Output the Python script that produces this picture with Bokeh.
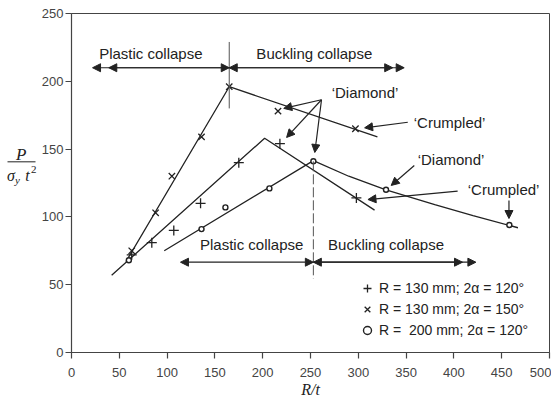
from bokeh.plotting import figure
from bokeh.layouts import row
from bokeh.models import (Label, Arrow, NormalHead, Legend, LegendItem,
                          FixedTicker)
from bokeh.embed import file_html
from bokeh.resources import INLINE

# ---------------- data ----------------
plus_x = [63, 84, 107, 135, 175, 218, 298]
plus_y = [72, 81, 90, 110, 140, 154, 114]
cross_x = [63, 88, 105, 136, 165, 216, 297]
cross_y = [75, 103, 130, 159, 196, 178, 165]
circ_x = [60, 136, 161, 207, 253, 329, 458]
circ_y = [68, 91, 107, 121, 141, 120, 94]

plus_fit_x = [42, 202, 317]
plus_fit_y = [57, 158, 105]
cross_fit_x = [57, 165, 320]
cross_fit_y = [67, 196, 159]
circ_fit_x = [97, 253, 290, 329, 380, 420, 467]
circ_fit_y = [75, 141.5, 130, 120, 109, 101, 92]

boundary_x = [165, 253]

x_ticks = [0, 50, 100, 150, 200, 250, 300, 350, 400, 450, 500]
y_ticks = [0, 50, 100, 150, 200, 250]

legend_labels = ["R = 130 mm; 2\u03b1 = 120\u00b0",
                 "R = 130 mm; 2\u03b1 = 150\u00b0",
                 "R =  200 mm; 2\u03b1 = 120\u00b0"]
region_labels = ["Plastic collapse", "Buckling collapse"]
mode_labels = ["\u2018Diamond\u2019", "\u2018Crumpled\u2019"]

# ---------------- styling ----------------
INK = "#222222"
AX = "#444444"
SANS = "Liberation Sans"
SERIF = "Liberation Serif"
H = 400
LEFT_W = 38

# ---------------- left strip holding the y-axis label ----------------
lab = figure(width=LEFT_W, height=H, x_range=(0, LEFT_W), y_range=(0, H),
             x_axis_type=None, y_axis_type=None, output_backend="svg",
             toolbar_location=None, min_border=0)
lab.xgrid.visible = False
lab.ygrid.visible = False
lab.outline_line_color = None


def ylab(x, y, text, size, style="italic"):
    lab.add_layout(Label(x=x, y=y, text=text, text_align="center",
                         text_baseline="middle", text_font=SERIF,
                         text_font_size=size, text_font_style=style,
                         text_color=INK))


ylab(20.7, H - 166.7, "P", "17px")
lab.add_layout(Arrow(x_start=7, y_start=H - 175, x_end=35, y_end=H - 175,
                     end=None, line_color=INK, line_width=1))
ylab(10.5, H - 191.5, "\u03c3", "16px")
ylab(17.0, H - 196.5, "y", "11px")
ylab(27.0, H - 191.5, "t", "16px")
ylab(33.3, H - 184.5, "2", "11px", style="normal")

# ---------------- main figure ----------------
p = figure(width=31 + 480 + 2, height=H, x_range=(0, 500), y_range=(0, 250),
           output_backend="svg", toolbar_location=None,
           min_border_left=31, min_border_right=2, min_border_top=13,
           min_border_bottom=48)
p.xgrid.visible = False
p.ygrid.visible = False
p.background_fill_color = "white"
p.border_fill_color = "white"
p.outline_line_color = AX
p.outline_line_width = 1

for ax in (p.xaxis[0], p.yaxis[0]):
    ax.axis_line_color = AX
    ax.axis_line_width = 1.2
    ax.major_tick_line_color = AX
    ax.major_tick_line_width = 1.2
    ax.major_tick_in = 0
    ax.major_tick_out = 6
    ax.minor_tick_line_color = None
    ax.major_label_text_font = SANS
    ax.major_label_text_font_size = "13px"
    ax.major_label_text_color = AX

p.xaxis.ticker = FixedTicker(ticks=x_ticks)
p.yaxis.ticker = FixedTicker(ticks=y_ticks)
p.xaxis.major_label_standoff = 9
p.yaxis.major_label_standoff = 2
p.xaxis.axis_label = "R/t"
p.xaxis.axis_label_text_font = SERIF
p.xaxis.axis_label_text_font_style = "italic"
p.xaxis.axis_label_text_font_size = "16px"
p.xaxis.axis_label_text_color = INK
p.xaxis.axis_label_standoff = 1

# fitted lines
p.line(plus_fit_x, plus_fit_y, line_color=INK, line_width=1.3)
p.line(cross_fit_x, cross_fit_y, line_color=INK, line_width=1.3)
p.line(circ_fit_x, circ_fit_y, line_color=INK, line_width=1.3)

# markers
r_plus = p.scatter(plus_x, plus_y, marker="cross", size=10,
                   line_color=INK, line_width=1.3)
r_cross = p.scatter(cross_x, cross_y, marker="x", size=9,
                    line_color=INK, line_width=1.3)
r_circ = p.scatter(circ_x, circ_y, marker="circle", size=5,
                   line_color=INK, line_width=1.4, fill_color="white")

# boundary lines
p.add_layout(Arrow(x_start=boundary_x[0], y_start=180, x_end=boundary_x[0],
                   y_end=229, end=None, line_color="#555555", line_width=1))
p.add_layout(Arrow(x_start=boundary_x[1], y_start=141, x_end=boundary_x[1],
                   y_end=54.5, end=None, line_color="#555555", line_width=1,
                   line_dash="10 3"))


def head(size=8):
    return NormalHead(size=size, fill_color=INK, line_color=INK, line_width=1)


def arrow(x0, y0, x1, y1, start=False, end=True, size=8):
    p.add_layout(Arrow(x_start=x0, y_start=y0, x_end=x1, y_end=y1,
                       start=head(size) if start else None,
                       end=head(size) if end else None,
                       line_color=INK, line_width=1.2))


# region arrows (top)
arrow(22, 210, boundary_x[0], 210, start=True, end=True)
arrow(boundary_x[0], 210, 39, 210)
arrow(boundary_x[0], 210, 348, 210, start=True, end=True)
arrow(boundary_x[0], 210, 336, 210)
# region arrows (bottom)
arrow(114, 66.6, boundary_x[1], 66.6, start=True, end=True)
arrow(boundary_x[1], 66.6, 423, 66.6, start=True, end=True)
arrow(boundary_x[1], 66.6, 409, 66.6)

# mode arrows
arrow(261.5, 186.4, 222, 180)
arrow(261.5, 186.4, 225, 158.6)
arrow(261.5, 186.4, 254.5, 147.5)
arrow(351.8, 169.8, 306.6, 165.7)
arrow(358.6, 137.9, 334.4, 123.2)
arrow(403.9, 119.0, 310.1, 112.8)
arrow(457.6, 112.1, 457.6, 98.8)


def label(x, y, text, size="15px"):
    p.add_layout(Label(x=x, y=y, text=text, text_align="center",
                       text_baseline="middle", text_font=SANS,
                       text_font_size=size, text_color=INK))


label(83, 220.5, region_labels[0])
label(254, 220.5, region_labels[1])
label(188.5, 79.5, region_labels[0])
label(329, 79.5, region_labels[1])
label(307, 192, mode_labels[0])
label(395.5, 169.8, mode_labels[1])
label(397, 142, mode_labels[0])
label(452, 120, mode_labels[1])

# legend
legend = Legend(items=[LegendItem(label=legend_labels[0], renderers=[r_plus]),
                       LegendItem(label=legend_labels[1], renderers=[r_cross]),
                       LegendItem(label=legend_labels[2], renderers=[r_circ])],
                location=(286, 12), glyph_width=20, glyph_height=20,
                label_standoff=2, spacing=1, padding=0, margin=0,
                label_height=20, border_line_alpha=0,
                background_fill_alpha=0, label_text_font=SANS,
                label_text_font_size="14px", label_text_color=INK)
p.add_layout(legend)

layout = row(lab, p, spacing=0)
open("out.html", "w").write(file_html(layout, INLINE))
